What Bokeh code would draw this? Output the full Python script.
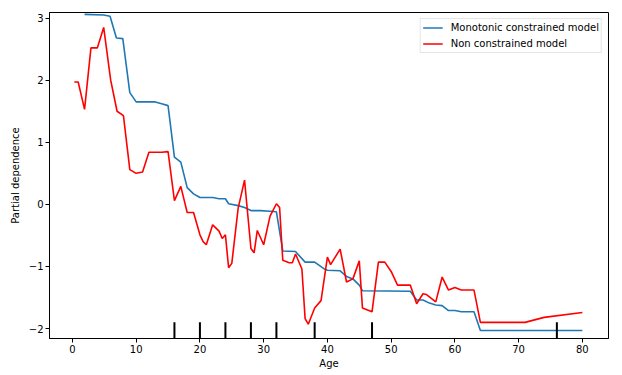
from bokeh.plotting import figure
from bokeh.models import Range1d, FixedTicker, Legend, LegendItem, ColumnDataSource
from bokeh.embed import file_html
from bokeh.resources import INLINE

# Monotonic constrained model (partial dependence on Age)
mono_age = [1.9, 4.9, 5.9, 6.9, 7.9, 9.0, 10.0, 13.0, 14.0, 15.0, 16.0, 17.0, 18.0, 19.0,
            20.0, 22.0, 23.0, 24.0, 24.5, 26.0, 27.0, 28.0, 29.5, 31.0, 32.0, 33.0, 35.0,
            36.5, 38.0, 39.5, 40.0, 42.0, 43.0, 44.0, 45.0, 45.5, 53.0, 54.0, 55.0, 56.0,
            57.0, 58.0, 59.0, 60.0, 61.0, 63.0, 64.0, 80.0]
mono_pd = [3.06, 3.05, 3.03, 2.68, 2.67, 1.80, 1.65, 1.65, 1.62, 1.59, 0.76, 0.68, 0.27, 0.17,
           0.11, 0.11, 0.09, 0.09, 0.01, -0.02, -0.05, -0.10, -0.10, -0.11, -0.12, -0.75, -0.76,
           -0.93, -0.93, -1.04, -1.06, -1.07, -1.16, -1.20, -1.30, -1.39, -1.40, -1.54, -1.54, -1.59,
           -1.62, -1.63, -1.71, -1.71, -1.73, -1.73, -2.03, -2.03]

# Non constrained model
free_age = [0.3, 0.9, 1.9, 2.9, 3.9, 4.9, 6.0, 7.0, 8.0, 9.0, 10.0, 11.0, 12.0, 13.0, 14.0,
            15.0, 16.0, 17.0, 18.0, 19.0, 20.0, 20.5, 21.0, 22.0, 23.0, 23.5, 24.0, 24.5, 25.0,
            26.0, 27.0, 28.0, 28.5, 29.0, 30.0, 31.0, 32.0, 32.5, 33.0, 34.0, 34.5, 35.0, 36.0,
            36.5, 37.0, 38.0, 39.0, 40.0, 40.5, 42.0, 43.0, 44.0, 45.0, 45.5, 47.0, 48.0, 49.0,
            50.0, 51.0, 53.0, 54.0, 55.0, 55.5, 57.0, 58.0, 59.0, 60.0, 61.0, 63.0, 64.0, 71.0,
            74.0, 80.0]
free_pd = [1.97, 1.97, 1.53, 2.52, 2.52, 2.85, 2.00, 1.50, 1.43, 0.56, 0.50, 0.52, 0.84, 0.84, 0.84,
           0.85, 0.06, 0.29, -0.13, -0.13, -0.49, -0.60, -0.65, -0.33, -0.43, -0.55, -0.49, -1.02, -0.95,
           -0.06, 0.39, -0.71, -0.78, -0.42, -0.65, -0.19, 0.01, -0.05, -0.90, -0.94, -0.94, -0.80, -1.04,
           -1.84, -1.93, -1.67, -1.55, -0.85, -0.97, -0.72, -1.25, -1.20, -0.91, -1.67, -1.73, -0.93, -0.93,
           -1.08, -1.30, -1.30, -1.60, -1.44, -1.45, -1.57, -1.17, -1.38, -1.34, -1.38, -1.38, -1.90, -1.90,
           -1.82, -1.74]

# Deciles of Age (rug marks)
deciles = [16, 20, 24, 28, 32, 38, 47, 76]

y_ticks = [-2, -1, 0, 1, 2, 3]
x_ticks = [0, 10, 20, 30, 40, 50, 60, 70, 80]

x_lo, x_hi = -3.6, 84.1
y_lo, y_hi = -2.16, 3.09

FONT = "DejaVu Sans"

p = figure(width=622, height=375, output_backend="svg", toolbar_location=None,
           x_range=Range1d(x_lo, x_hi), y_range=Range1d(y_lo, y_hi),
           min_border_left=49, min_border_right=14, min_border_top=12, min_border_bottom=37)

p.xgrid.visible = False
p.ygrid.visible = False
p.outline_line_color = "black"
p.outline_line_width = 1
p.outline_line_alpha = 1
p.background_fill_color = "white"
p.border_fill_color = "white"

r_mono = p.line(mono_age, mono_pd, line_color="#1f77b4", line_width=1.6)
r_free = p.line(free_age, free_pd, line_color="red", line_width=1.6)

# decile rug marks: 5% of axis height from the bottom
rug_h = 0.05 * (y_hi - y_lo)
src = ColumnDataSource(dict(x=deciles, y0=[y_lo] * len(deciles), y1=[y_lo + rug_h] * len(deciles)))
p.segment(x0="x", y0="y0", x1="x", y1="y1", source=src, line_color="black", line_width=2)

p.xaxis.ticker = FixedTicker(ticks=x_ticks)
p.yaxis.ticker = FixedTicker(ticks=y_ticks)
p.yaxis.major_label_overrides = {-2: "\u22122", -1: "\u22121"}

for ax in (p.xaxis[0], p.yaxis[0]):
    ax.major_label_text_font = FONT
    ax.major_label_text_font_size = "10px"
    ax.major_label_text_color = "black"
    ax.axis_label_text_font = FONT
    ax.axis_label_text_font_size = "10px"
    ax.axis_label_text_font_style = "normal"
    ax.axis_label_text_color = "black"
    ax.minor_tick_line_color = None
    ax.major_tick_in = 0
    ax.major_tick_out = 4
    ax.major_tick_line_color = "black"
    ax.axis_line_color = "black"
    ax.major_label_standoff = 2

p.xaxis.axis_label = "Age"
p.yaxis.axis_label = "Partial dependence"
p.xaxis.axis_label_standoff = 2
p.yaxis.axis_label_standoff = 5

legend = Legend(items=[LegendItem(label="Monotonic constrained model", renderers=[r_mono]),
                       LegendItem(label="Non constrained model", renderers=[r_free])],
                location="top_right")
legend.label_text_font = FONT
legend.label_text_font_size = "10px"
legend.label_text_color = "black"
legend.glyph_width = 20
legend.glyph_height = 13
legend.label_height = 13
legend.label_standoff = 8
legend.spacing = 3
legend.padding = 2
legend.margin = 6
legend.border_line_color = "#cccccc"
legend.border_line_width = 1
legend.background_fill_alpha = 0.8
p.add_layout(legend)

open("out.html", "w").write(file_html(p, INLINE))
